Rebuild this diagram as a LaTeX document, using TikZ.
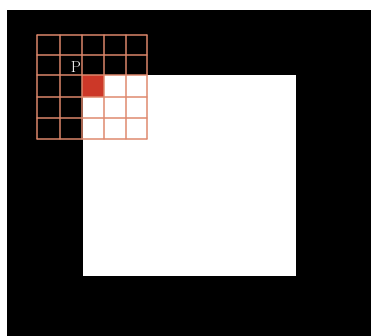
\documentclass[tikz,border=0pt]{standalone}
\usepackage{tikz}
\usepackage{xcolor}
\definecolor{gridbrown}{RGB}{222,136,108}
\definecolor{pixred}{RGB}{204,56,40}
\tikzstyle{gridline} = [draw=gridbrown, line width=1.2pt, opacity=0.75, line cap=round]
\tikzstyle{label} = [text=white, font=\fontsize{16}{16}\selectfont, inner sep=0pt]

\begin{document}
\begin{tikzpicture}[x=1pt, y=-1pt]
  % page and black image
  \fill[white] (0,0) rectangle (371,336);
  \fill[black] (7,10) rectangle (371,336);
  % white object
  \fill[white] (83,75) rectangle (296,276);
  % the current pixel
  \fill[pixred] (82,75) rectangle (104,97);
  % 5x5 window
  \foreach \x in {37,60,82,104,126,147}
    \draw[gridline] (\x,35) -- (\x,139);
  \foreach \y in {35,55,75,97,118,139}
    \draw[gridline] (37,\y) -- (147,\y);
  \node (p) [label] at (76,67) {P};
\end{tikzpicture}
\end{document}
